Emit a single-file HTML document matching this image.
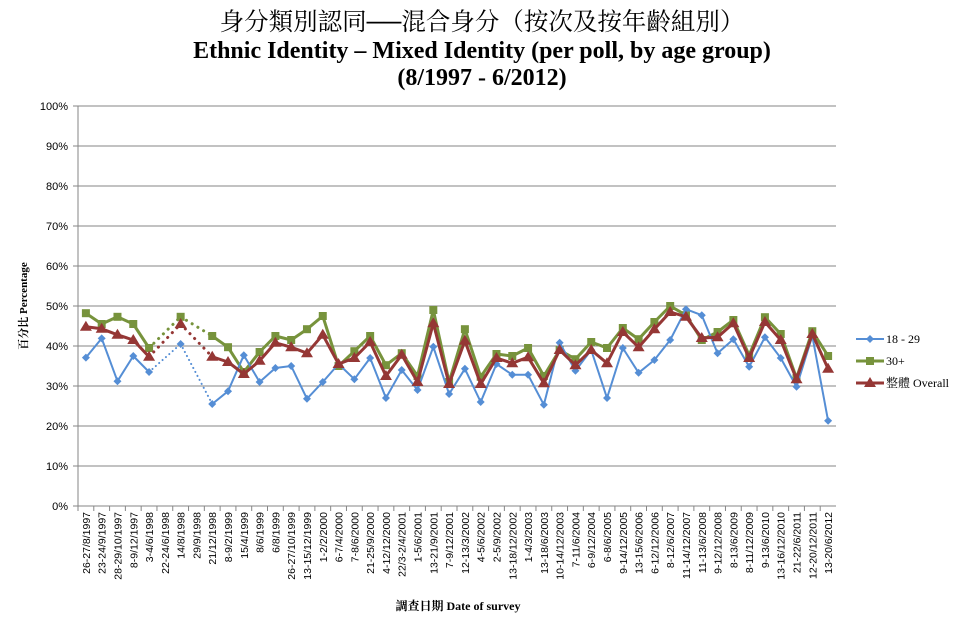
<!DOCTYPE html>
<html><head><meta charset="utf-8">
<style>
html,body{margin:0;padding:0;background:#fff;}
svg{display:block;}
</style></head>
<body>
<svg id="chart" width="963" height="623" xmlns="http://www.w3.org/2000/svg">
<text x="482" y="30" text-anchor="middle" font-family="'Liberation Serif','Noto Serif CJK SC',serif" font-size="24.5">身分類別認同──混合身分（按次及按年齡組別）</text>
<text x="482" y="58" text-anchor="middle" font-family="'Liberation Serif',serif" font-weight="bold" font-size="24">Ethnic Identity – Mixed Identity (per poll, by age group)</text>
<text x="482" y="85" text-anchor="middle" font-family="'Liberation Serif',serif" font-weight="bold" font-size="24">(8/1997 - 6/2012)</text>
<g id="grid"></g>
<g id="axes"></g>
<g id="series"></g>
<text transform="translate(27,306) rotate(-90)" text-anchor="middle" font-family="'Liberation Serif','Noto Serif CJK TC',serif" font-weight="bold" font-size="11">百分比 Percentage</text>
<text x="458" y="610" text-anchor="middle" font-family="'Liberation Serif','Noto Serif CJK TC',serif" font-weight="bold" font-size="12">調查日期 Date of survey</text>
<g id="legend"></g>
</svg>
<script>
const categories=["26-27/8/1997","23-24/9/1997","28-29/10/1997","8-9/12/1997","3-4/6/1998","22-24/6/1998","14/8/1998","29/9/1998","21/12/1998","8-9/2/1999","15/4/1999","8/6/1999","6/8/1999","26-27/10/1999","13-15/12/1999","1-2/2/2000","6-7/4/2000","7-8/6/2000","21-25/9/2000","4-12/12/2000","22/3-2/4/2001","1-5/6/2001","13-21/9/2001","7-9/12/2001","12-13/3/2002","4-5/6/2002","2-5/9/2002","13-18/12/2002","1-4/3/2003","13-18/6/2003","10-14/12/2003","7-11/6/2004","6-9/12/2004","6-8/6/2005","9-14/12/2005","13-15/6/2006","6-12/12/2006","8-12/6/2007","11-14/12/2007","11-13/6/2008","9-12/12/2008","8-13/6/2009","8-11/12/2009","9-13/6/2010","13-16/12/2010","21-22/6/2011","12-20/12/2011","13-20/6/2012"];
const youngValues=[37.1,41.9,31.2,37.5,33.5,null,40.5,null,25.5,28.7,37.7,31,34.5,35,26.8,31,35.5,31.7,37,27,34,29,39.8,28,34.3,26,35.5,32.8,32.8,25.3,40.8,33.8,39,27,39.5,33.3,36.5,41.5,49.2,47.7,38.2,41.7,34.8,42.2,37,29.8,42.5,21.3];
const olderValues=[48.2,45.5,47.3,45.5,39.5,null,47.3,null,42.5,39.7,33.5,38.5,42.5,41.5,44.2,47.5,35,38.7,42.5,35.2,38.2,32.5,49,31,44.2,32.3,38,37.5,39.5,32.5,39,36.7,41,39.5,44.5,41.7,46,50,47.7,41.5,43.5,46.5,37.7,47.2,43,32,43.7,37.5];
const overallValues=[44.8,44.3,42.8,41.5,37.3,null,45.5,null,37.3,36,33,36.3,40.8,39.7,38.2,42.8,35.5,37,41,32.5,37.8,31,45.7,30.5,41.3,30.5,37,35.7,37.2,30.7,39,35.2,39,35.7,43.5,39.7,44.2,48.5,47.3,42,42.2,45.7,37,46,41.5,31.7,43,34.3];
const yTicks=[0,10,20,30,40,50,60,70,80,90,100];
const seriesNames=["18 - 29","30+","整體 Overall"];

const NS="http://www.w3.org/2000/svg";
const L=78,R=836,T=106,B=506;
const step=(R-L)/categories.length;
const xs=i=>L+step*(i+0.5);
const ys=v=>B-(v/100)*(B-T);
function mk(tag,attrs,parent){const e=document.createElementNS(NS,tag);for(const k in attrs)e.setAttribute(k,attrs[k]);parent.appendChild(e);return e;}
const grid=document.getElementById('grid'),axes=document.getElementById('axes'),ser=document.getElementById('series'),leg=document.getElementById('legend');
yTicks.forEach(t=>{
  if(t>0){const g=mk('line',{x1:L,x2:R,y1:ys(t),y2:ys(t),stroke:'#868686','stroke-width':1},grid);
  
  }
  const tx=mk('text',{x:L-10,y:ys(t)+4,'text-anchor':'end','font-family':"'Liberation Sans',sans-serif",'font-size':11},axes);
  tx.textContent=t+'%';
  
  
  const tk=mk('line',{x1:L-5,x2:L,y1:ys(t),y2:ys(t),stroke:'#868686'},axes);
  
  
});
const ya=mk('line',{x1:L,x2:L,y1:T,y2:B,stroke:'#868686'},axes);


const xa=mk('line',{x1:L,x2:R,y1:B,y2:B,stroke:'#868686'},axes);


categories.forEach((c,i)=>{
  const x=xs(i);
  const tk=mk('line',{x1:L+step*i,x2:L+step*i,y1:B,y2:B+5,stroke:'#868686'},axes);
  
  
  const t=mk('text',{transform:`translate(${x+4},${B+6}) rotate(-90)`,'text-anchor':'end','font-family':"'Liberation Sans',sans-serif",'font-size':10.5},axes);
  t.textContent=c;
  
  
});
function marker(type,x,y,color,g){
  let m;
  if(type==='diamond') m=mk('path',{d:`M${x} ${y-4}L${x+4} ${y}L${x} ${y+4}L${x-4} ${y}Z`,fill:color},g);
  else if(type==='square') m=mk('rect',{x:x-4,y:y-4,width:8,height:8,fill:color},g);
  else m=mk('path',{d:`M${x} ${y-6}L${x+6} ${y+4}L${x-6} ${y+4}Z`,fill:color},g);
  return m;
}
function drawSeries(vals,color,width,type,name){
  const g=mk('g',{},ser);
  
  
  const idx=vals.map((v,i)=>v==null?null:i).filter(i=>i!=null);
  for(let k=0;k<idx.length-1;k++){
    const a=idx[k],b=idx[k+1];
    const ln=mk('line',{x1:xs(a),y1:ys(vals[a]),x2:xs(b),y2:ys(vals[b]),stroke:color,'stroke-width':width,'stroke-linecap':b-a>1?'round':'butt'},g);
    if(b-a>1) ln.setAttribute('stroke-dasharray','0.1 '+(width*2.2));
    
    
  }
  idx.forEach(i=>{
    const m=marker(type,xs(i),ys(vals[i]),color,g);
    
    
  });
}
drawSeries(olderValues,'#77933c',3,'square','series-30-plus');
drawSeries(youngValues,'#558ed5',2,'diamond','series-18-29');
drawSeries(overallValues,'#953735',3,'triangle','series-overall');
const legCfg=[['#558ed5',2,'diamond'],['#77933c',3,'square'],['#953735',3,'triangle']];
seriesNames.forEach((n,i)=>{
  const y=339+i*22;
  const g=mk('g',{},leg);
  
  
  mk('line',{x1:856,x2:884,y1:y,y2:y,stroke:legCfg[i][0],'stroke-width':legCfg[i][1]},g);
  marker(legCfg[i][2],870,y,legCfg[i][0],g);
  const t=mk('text',{x:886,y:y+4,'font-family':"'Liberation Serif','Noto Serif CJK TC',serif",'font-size':12},g);
  t.textContent=n;
});
</script>
</body></html>
